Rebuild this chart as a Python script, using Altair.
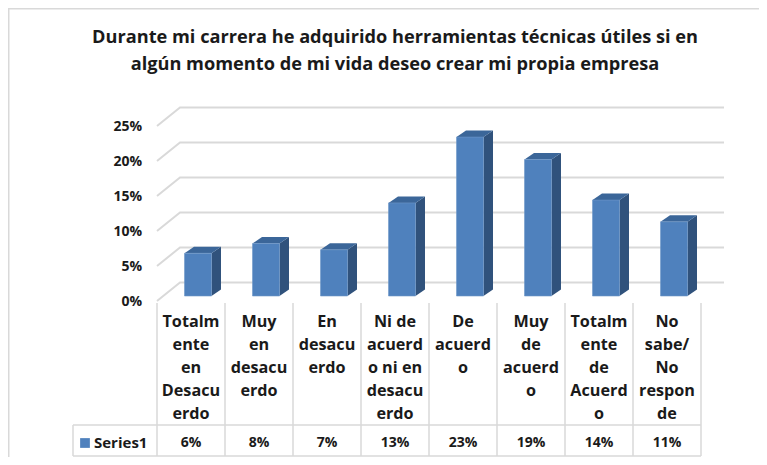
import altair as alt
import pandas as pd

# ---------------- data ----------------
title_lines = [
    "Durante mi carrera he adquirido herramientas técnicas útiles si en",
    "algún momento de mi vida deseo crear mi propia empresa",
]
categories = [
    "Totalm|ente|en|Desacu|erdo",
    "Muy|en|desacu|erdo",
    "En|desacu|erdo",
    "Ni de|acuerd|o ni en|desacu|erdo",
    "De|acuerd|o",
    "Muy|de|acuerd|o",
    "Totalm|ente|de|Acuerd|o",
    "No|sabe/|No|respon|de",
]
values = [0.061, 0.075, 0.066, 0.133, 0.227, 0.195, 0.137, 0.106]
value_labels = ["6%", "8%", "7%", "13%", "23%", "19%", "14%", "11%"]
series_name = "Series1"
y_ticks = [0.0, 0.05, 0.10, 0.15, 0.20, 0.25]
y_tick_labels = ["0%", "5%", "10%", "15%", "20%", "25%"]

# ---------------- layout (page pixels) ----------------
OX, OY = 8, 8
W, H = 751, 449
Y0 = 301.0          # page y of 0% at the front edge
PPU = 700.0         # pixels per 1.0 (100%)


def xd(px):
    return px - OX


def yd(py):
    return (Y0 - py) / PPU


XS = alt.Scale(domain=[0, W], nice=False, zero=False)
YS = alt.Scale(domain=[yd(OY + H), yd(OY)], nice=False, zero=False)

FONT = "Open Sans"
TXT = "#1a1a1a"
FRONT = "#4F81BD"
SIDE = "#30527C"
TOP = "#3B6699"
GRID = "#d9d9d9"

TABLE_L = 157.0
COLW = 68.0
WALL_DX, WALL_DY = 23.0, 18.5 / PPU
BAR_W, BAR_D, BAR_R = 27.0, 9.5, 6.5 / PPU
BAR_SHIFT = 7.0
BASE = 5.0 / PPU


def X(f):
    return alt.X(f, type="quantitative", scale=XS, axis=None)


def Y(f):
    return alt.Y(f, type="quantitative", scale=YS, axis=None, stack=False)


# ---------------- gridlines (3D back wall) ----------------
grid_rows = []
for k, v in enumerate(y_ticks):
    grid_rows += [
        dict(g=k, o=0, x=xd(TABLE_L), y=v),
        dict(g=k, o=1, x=xd(TABLE_L + WALL_DX), y=v + WALL_DY),
        dict(g=k, o=2, x=xd(724), y=v + WALL_DY),
    ]
grid = alt.Chart(pd.DataFrame(grid_rows)).mark_line(
    color=GRID, strokeWidth=2
).encode(x=X("x"), y=Y("y"), detail="g:N", order="o:Q")

# ---------------- bars ----------------
front_rows, side_rows, top_rows = [], [], []
for i, v in enumerate(values):
    c = TABLE_L + (i + 0.5) * COLW
    xl = c + BAR_SHIFT - BAR_W / 2
    xr = xl + BAR_W
    T = BASE + v
    front_rows.append(dict(i=i, x=xd(xl), x2=xd(xr), y=BASE, y2=T))
    side_rows += [
        dict(i=i, x=xd(xr), lo=BASE, hi=T),
        dict(i=i, x=xd(xr + BAR_D), lo=BASE + BAR_R, hi=T + BAR_R),
    ]
    top_rows += [
        dict(i=i, x=xd(xl), lo=T, hi=T),
        dict(i=i, x=xd(xl + BAR_D), lo=T, hi=T + BAR_R),
        dict(i=i, x=xd(xr), lo=T, hi=T + BAR_R),
        dict(i=i, x=xd(xr + BAR_D), lo=T + BAR_R, hi=T + BAR_R),
    ]

front = alt.Chart(pd.DataFrame(front_rows)).mark_rect(
    color=FRONT, stroke="#6f97c8", strokeWidth=0.6
).encode(x=X("x"), x2="x2", y=Y("y"), y2="y2")

side = alt.Chart(pd.DataFrame(side_rows)).mark_area(
    color=SIDE, orient="vertical", interpolate="linear"
).encode(x=X("x"), y=Y("lo"), y2="hi", detail="i:N")

top = alt.Chart(pd.DataFrame(top_rows)).mark_area(
    color=TOP, orient="vertical", interpolate="linear"
).encode(x=X("x"), y=Y("lo"), y2="hi", detail="i:N")

# ---------------- y tick labels ----------------
ticks = alt.Chart(pd.DataFrame(dict(v=y_ticks, t=y_tick_labels))).mark_text(
    font=FONT, fontSize=14, fontWeight="bold", color=TXT, align="right",
    baseline="middle", dy=1
).encode(x=alt.value(xd(142)), y=Y("v"), text="t:N")

# ---------------- data table ----------------
seg_rows = []
for k in range(len(categories) + 1):
    xx = xd(TABLE_L + k * COLW)
    seg_rows.append(dict(x=xx, x2=xx, y=yd(303), y2=yd(456)))
for py in (425, 456):
    seg_rows.append(dict(x=xd(73), x2=xd(TABLE_L + len(categories) * COLW), y=yd(py), y2=yd(py)))
seg_rows.append(dict(x=xd(73), x2=xd(73), y=yd(425), y2=yd(456)))
table_lines = alt.Chart(pd.DataFrame(seg_rows)).mark_rule(
    color=GRID, strokeWidth=1.5
).encode(x=X("x"), x2="x2", y=Y("y"), y2="y2")

head_rows = []
for i, cat in enumerate(categories):
    c = TABLE_L + (i + 0.5) * COLW
    for j, line in enumerate(cat.split("|")):
        head_rows.append(dict(x=xd(c), y=yd(322 + 23 * j), t=line))
heads = alt.Chart(pd.DataFrame(head_rows)).mark_text(
    font=FONT, fontSize=16.2, fontWeight="bold", color=TXT, baseline="middle"
).encode(x=X("x"), y=Y("y"), text="t:N")

val_rows = [
    dict(x=xd(TABLE_L + (i + 0.5) * COLW), y=yd(443), t=lab)
    for i, lab in enumerate(value_labels)
]
vals = alt.Chart(pd.DataFrame(val_rows)).mark_text(
    font=FONT, fontSize=14, fontWeight="bold", color=TXT, baseline="middle"
).encode(x=X("x"), y=Y("y"), text="t:N")

legend_sq = alt.Chart(pd.DataFrame([dict(x=xd(85), y=yd(443))])).mark_square(
    color=FRONT, size=95, opacity=1
).encode(x=X("x"), y=Y("y"))
legend_txt = alt.Chart(pd.DataFrame([dict(x=xd(94), y=yd(443), t=series_name)])).mark_text(
    font=FONT, fontSize=15, fontWeight="bold", color=TXT, align="left", baseline="middle"
).encode(x=X("x"), y=Y("y"), text="t:N")

# ---------------- title ----------------
title_rows = [dict(x=xd(395), y=yd(38 + 27 * j), t=t) for j, t in enumerate(title_lines)]
title = alt.Chart(pd.DataFrame(title_rows)).mark_text(
    font=FONT, fontSize=18.2, fontWeight="bold", color=TXT, baseline="middle"
).encode(x=X("x"), y=Y("y"), text="t:N")

# ---------------- chart border (top & left visible) ----------------
border_rows = [
    dict(x=0.5, x2=0.5, y=yd(OY), y2=yd(OY + H)),
    dict(x=0, x2=W, y=yd(OY + 0.5), y2=yd(OY + 0.5)),
]
border = alt.Chart(pd.DataFrame(border_rows)).mark_rule(
    color=GRID, strokeWidth=2
).encode(x=X("x"), x2="x2", y=Y("y"), y2="y2")

chart = alt.layer(
    border, grid, side, top, front, ticks, table_lines, heads, vals,
    legend_sq, legend_txt, title
).properties(
    width=W, height=H, padding=0, autosize=alt.AutoSizeParams(type="none"),
    background="white"
).configure_view(stroke=None)

chart.save("out.html", embed_options={"renderer": "svg", "actions": False})
